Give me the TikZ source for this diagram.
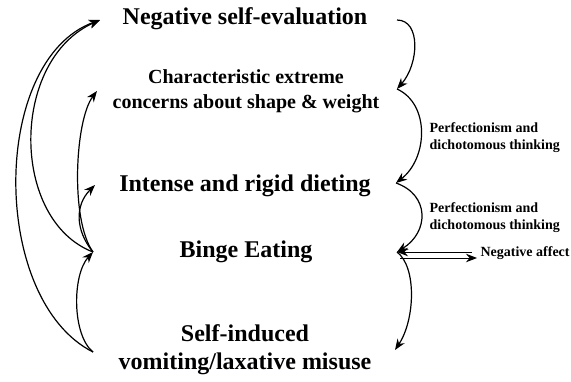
\documentclass[tikz,border=0pt]{standalone}
\usepackage{fontspec}
\setmainfont{Liberation Serif}
\usetikzlibrary{arrows.meta}
\tikzset{
  big/.style={font=\fontsize{24}{28}\selectfont\bfseries,align=center,inner sep=0pt},
  mid/.style={font=\fontsize{20}{25}\selectfont\bfseries,align=center,inner sep=0pt},
  small/.style={font=\fontsize{14}{17}\selectfont\bfseries,align=left,inner sep=0pt},
}
\begin{document}
\begin{tikzpicture}[>={Stealth[length=11pt,width=8.5pt]},x=1pt,y=-1pt,line width=1.2pt]
\useasboundingbox (0,0) rectangle (571,381);
% boxes of text
\node[big] (neg) at (245,19) {Negative self-evaluation};
\node[mid] (conc) at (246,91) {Characteristic extreme\\concerns about shape \& weight};
\node[big] (diet) at (245,186) {Intense and rigid dieting};
\node[big] (binge) at (246,252) {Binge Eating};
\node[big] (self) at (245,350) {Self-induced\\vomiting/laxative misuse};
\node[small,anchor=west] (perfA) at (429,138) {Perfectionism and\\dichotomous thinking};
\node[small,anchor=west] (perfB) at (429,218) {Perfectionism and\\dichotomous thinking};
\node[small,anchor=west] (aff) at (480,253) {Negative affect};
% ends of the arrows
\coordinate (negR) at (397,20);   \coordinate (negL) at (100,20);
\coordinate (concR) at (397,89);  \coordinate (concL) at (97,91);
\coordinate (dietR) at (396,183); \coordinate (dietL) at (95,185);
\coordinate (bingeR) at (397,252);\coordinate (bingeL) at (93,252);
\coordinate (selfR) at (395,350); \coordinate (selfL) at (93,352);
% right side
\draw[->] (negR) .. controls +(24,0) and +(22,-25) .. (concR);
\draw[->] (concR) .. controls +(33,15) and +(32,-25) .. (dietR);
\draw[->] (dietR) .. controls +(34,12) and +(32,-20) .. (bingeR);
\draw[->] (bingeR) .. controls +(20,15) and +(20,-30) .. (selfR);
\draw[->,line width=1pt] ([xshift=-8pt,yshift=1pt]aff.west) -- (bingeR);
\draw[->,line width=1pt] ([xshift=3pt,yshift=-6pt]bingeR) -- ([xshift=-3pt,yshift=-5pt]aff.west);
% left side
\draw[->] (selfL) .. controls (-10,300) and (-10,60) .. (negL);
\draw[->] (bingeL) .. controls (10,220) and (10,60) .. (negL);
\draw[->] (bingeL) .. controls (70,220) and (75,120) .. (concL);
\draw[->] (bingeL) .. controls (75,230) and (75,205) .. (dietL);
\draw[->] (selfL) .. controls (72,335) and (72,275) .. (bingeL);
\end{tikzpicture}
\end{document}
